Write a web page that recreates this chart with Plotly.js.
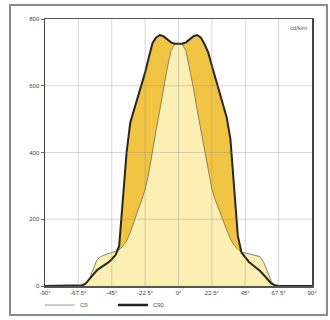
<!DOCTYPE html>
<html>
<head>
<meta charset="utf-8">
<script src="https://cdn.plot.ly/plotly-3.0.1.min.js"></script>
<style>
  html, body { margin: 0; padding: 0; background: #fff; }
  #wrap { position: relative; width: 330px; height: 320px; }
  #chart { width: 330px; height: 320px; }
  #frame { position: absolute; left: 9px; top: 4px; width: 315px; height: 308px;
           border: 2px solid #8c8c8c; pointer-events: none; }
</style>
</head>
<body>
<div id="wrap"><div id="chart"></div><div id="frame"></div></div>
<script>
const angles = [-90,-67.5,-65,-62.5,-60,-57.5,-55,-52.5,-50,-47.5,-45,-42.5,-40,-37.5,-35,-32.5,-30,-27.5,-25,-22.5,-20,-17.5,-15,-12.5,-10,-7.5,-5,-2.5,0,
                2.5,5,7.5,10,12.5,15,17.5,20,22.5,25,27.5,30,32.5,35,37.5,40,42.5,45,47.5,50,52.5,55,57.5,60,62.5,65,67.5,90];
const c90 = [0,0,2,8,22,35,47,55,62,70,80,92,120,260,400,490,528,560,600,640,685,728,745,752,748,738,730,726,726,
             726,730,738,748,752,745,725,700,660,620,580,540,505,440,300,150,100,85,72,63,55,45,33,20,8,2,0,0];
const c0 = [0,0,0,5,22,50,78,88,93,97,100,103,108,120,135,160,195,225,255,290,340,410,470,530,595,655,705,725,727,
            725,705,655,595,530,470,410,340,290,255,225,195,165,140,122,110,102,99,96,93,90,88,70,45,15,0,0,0];
const xTickVals = [-90,-67.5,-45,-22.5,0,22.5,45,67.5,90];
const xTickText = ["-90°","-67.5°","-45°","-22.5°","0°","22.5°","45°","67.5°","90°"];
const yTickVals = [0,200,400,600,800];
const yTickText = ["0","200","400","600","800"];
const legendNames = ["C0","C90"];
const unitLabel = "cd/klm";

const darkFill = "#f1c443";
const lightFill = "#fcefb3";

const traces = [
  {x: angles, y: c90, type: "scatter", mode: "lines", fill: "tozeroy", fillcolor: darkFill,
   line: {width: 0, color: darkFill}, showlegend: false, hoverinfo: "skip"},
  {x: angles, y: c0, type: "scatter", mode: "lines", fill: "tozeroy", fillcolor: lightFill,
   line: {width: 1, color: "#8f8160"}, showlegend: false, hoverinfo: "skip"},
  {x: angles, y: c90, type: "scatter", mode: "lines", line: {width: 2, color: "#2b2617"},
   showlegend: false, hoverinfo: "skip"},
  {x: [null], y: [null], type: "scatter", mode: "lines", name: legendNames[0],
   line: {width: 1, color: "#9a9a9a"}},
  {x: [null], y: [null], type: "scatter", mode: "lines", name: legendNames[1],
   line: {width: 2.5, color: "#222"}}
];

const shapes = [];
xTickVals.slice(1, -1).forEach(v => shapes.push({type: "line", xref: "x", yref: "paper", x0: v, x1: v, y0: 0, y1: 1,
  line: {color: "rgba(140,140,140,0.35)", width: 1}, layer: "above"}));
yTickVals.slice(1, -1).forEach(v => shapes.push({type: "line", xref: "paper", yref: "y", x0: 0, x1: 1, y0: v, y1: v,
  line: {color: "rgba(140,140,140,0.35)", width: 1}, layer: "above"}));

const tickFont = {family: "Liberation Sans, Arial, sans-serif", size: 6, color: "#444"};

const layout = {
  width: 330, height: 320,
  margin: {l: 45, r: 18, t: 19, b: 34},
  paper_bgcolor: "#fff", plot_bgcolor: "#fff",
  showlegend: true,
  xaxis: {range: [-90, 90], tickvals: xTickVals, ticktext: xTickText, showgrid: false, zeroline: false,
          showline: true, mirror: true, linecolor: "#555", linewidth: 1.5, ticks: "", tickfont: tickFont,
          fixedrange: true},
  yaxis: {range: [0, 800], tickvals: yTickVals, ticktext: yTickText, showgrid: false, zeroline: false,
          showline: true, mirror: true, linecolor: "#444", linewidth: 1.5, ticks: "outside", ticklen: 3,
          tickcolor: "#666", tickfont: tickFont, fixedrange: true},
  legend: {orientation: "h", xref: "container", yref: "container", x: 0.121, y: 0.092,
           xanchor: "left", yanchor: "top",
           font: {family: "Liberation Sans, Arial, sans-serif", size: 6, color: "#555"},
           entrywidth: 28, entrywidthmode: "pixels", bgcolor: "rgba(0,0,0,0)", tracegroupgap: 0},
  shapes: shapes,
  annotations: [{text: unitLabel, xref: "paper", yref: "paper", x: 0.99, y: 0.985, xanchor: "right", yanchor: "top",
                 showarrow: false, font: {family: "Liberation Sans, Arial, sans-serif", size: 6, color: "#555"}}]
};

Plotly.newPlot("chart", traces, layout, {displayModeBar: false, staticPlot: true});
</script>
</body>
</html>
